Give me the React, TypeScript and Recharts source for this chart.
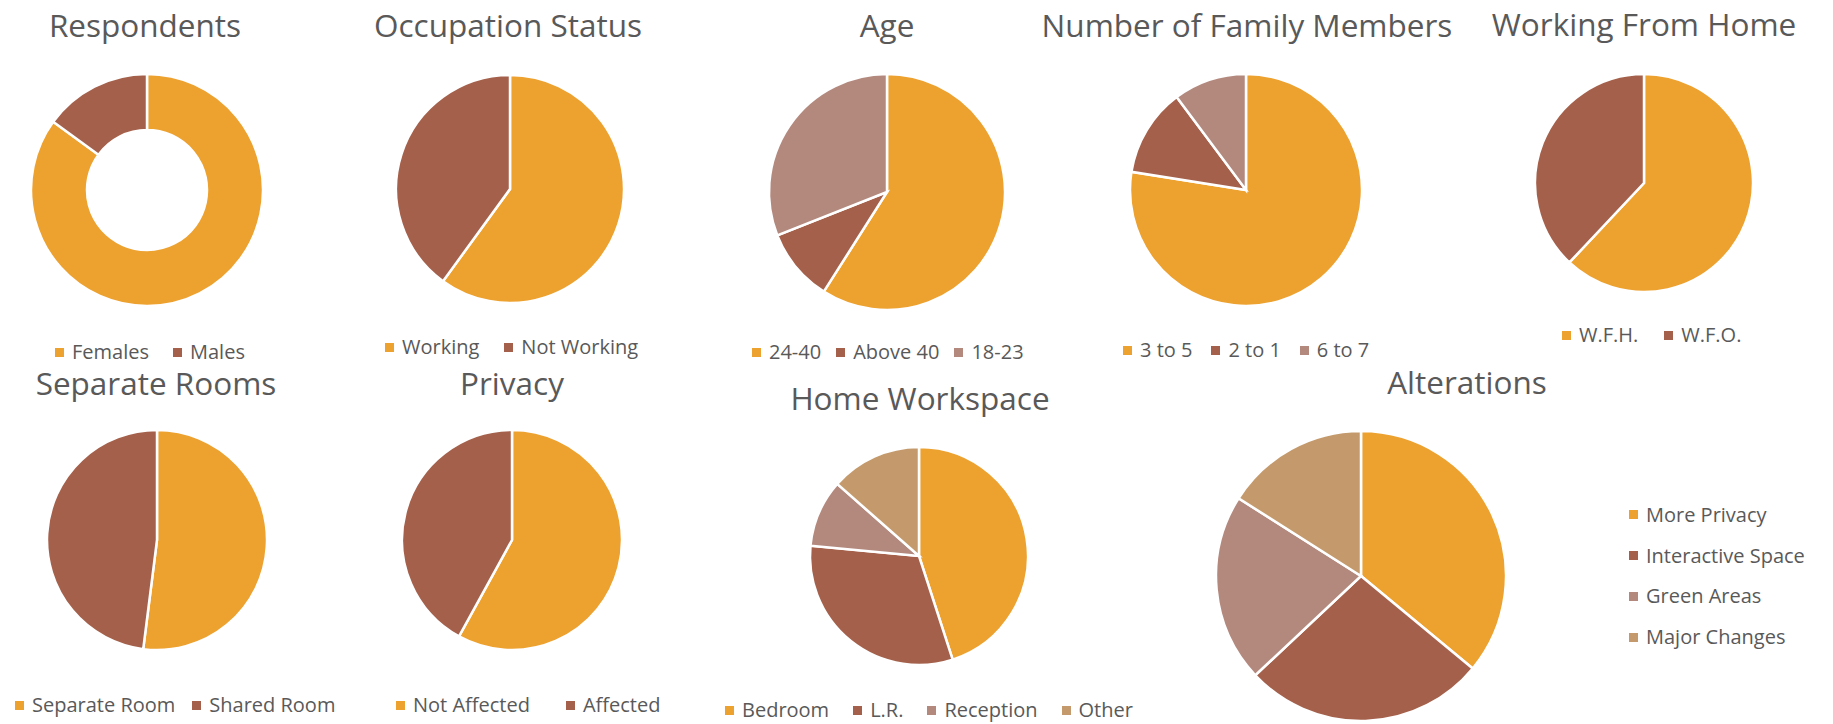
import React from 'react';
import { PieChart, Pie, Cell, Legend } from 'recharts';

// ---------- data ----------
const ORANGE = '#EDA12F';
const BROWN = '#A4604A';
const MAUVE = '#B3897E';
const TAN = '#C49A6C';

const respondentsLabels = ['Females', 'Males'];
const respondentsValues = [85, 15];

const occupationLabels = ['Working', 'Not Working'];
const occupationValues = [60, 40];

const ageLabels = ['24-40', 'Above 40', '18-23'];
const ageValues = [59, 10, 31];

const familyLabels = ['3 to 5', '2 to 1', '6 to 7'];
const familyValues = [77.5, 12.3, 10.2];

const wfhLabels = ['W.F.H.', 'W.F.O.'];
const wfhValues = [62, 38];

const separateLabels = ['Separate Room', 'Shared Room'];
const separateValues = [52, 48];

const privacyLabels = ['Not Affected', 'Affected'];
const privacyValues = [58, 42];

const workspaceLabels = ['Bedroom', 'L.R.', 'Reception', 'Other'];
const workspaceValues = [45, 31.5, 10, 13.5];

const alterationLabels = ['More Privacy', 'Interactive Space', 'Green Areas', 'Major Changes'];
const alterationValues = [36, 27, 21, 16];

const palette = [ORANGE, BROWN, MAUVE, TAN];

// ---------- layout ----------
type Layout = {
  cx: number; cy: number; r: number; inner?: number;
  tx: number; ty: number;
  lx: number; ly: number; gap: number; vertical?: boolean;
};

const charts: { title: string; labels: string[]; values: number[]; layout: Layout }[] = [
  { title: 'Respondents', labels: respondentsLabels, values: respondentsValues,
    layout: { cx: 147, cy: 190, r: 116, inner: 60, tx: 145, ty: 37, lx: 55, ly: 352, gap: 24 } },
  { title: 'Occupation Status', labels: occupationLabels, values: occupationValues,
    layout: { cx: 510, cy: 189, r: 114, tx: 508, ty: 37, lx: 385, ly: 347, gap: 25 } },
  { title: 'Age', labels: ageLabels, values: ageValues,
    layout: { cx: 887, cy: 192, r: 118, tx: 887, ty: 37, lx: 752, ly: 352, gap: 15 } },
  { title: 'Number of Family Members', labels: familyLabels, values: familyValues,
    layout: { cx: 1246, cy: 190, r: 116, tx: 1247, ty: 37, lx: 1123, ly: 350, gap: 19 } },
  { title: 'Working From Home', labels: wfhLabels, values: wfhValues,
    layout: { cx: 1644, cy: 183, r: 109, tx: 1644, ty: 36, lx: 1562, ly: 335, gap: 26 } },
  { title: 'Separate Rooms', labels: separateLabels, values: separateValues,
    layout: { cx: 157, cy: 540, r: 110, tx: 156, ty: 395, lx: 15, ly: 705, gap: 17 } },
  { title: 'Privacy', labels: privacyLabels, values: privacyValues,
    layout: { cx: 512, cy: 540, r: 110, tx: 512, ty: 395, lx: 396, ly: 705, gap: 36 } },
  { title: 'Home Workspace', labels: workspaceLabels, values: workspaceValues,
    layout: { cx: 919, cy: 556, r: 109, tx: 920, ty: 410, lx: 725, ly: 710, gap: 24 } },
  { title: 'Alterations', labels: alterationLabels, values: alterationValues,
    layout: { cx: 1361, cy: 576, r: 145, tx: 1467, ty: 394, lx: 1629, ly: 515, gap: 0, vertical: true } },
];

const W = 1833;
const H = 724;
const FONT = '"Open Sans", "Noto Sans", sans-serif';
const TEXT = '#595959';

const makeLegend = (labels: string[], gap: number, vertical?: boolean) => (props: any) => {
  const raw: any[] = props.payload || [];
  const payload = labels
    .map((l) => raw.find((p: any) => p.value === l))
    .filter(Boolean) as any[];
  return (
    <div
      style={{
        display: 'flex',
        flexDirection: vertical ? 'column' : 'row',
        alignItems: vertical ? 'flex-start' : 'center',
        columnGap: gap,
        whiteSpace: 'nowrap',
        fontFamily: FONT,
        fontSize: 20,
        color: TEXT,
      }}
    >
      {payload.map((p: any, i: number) => (
        <div key={i} style={{ display: 'flex', alignItems: 'center', height: vertical ? 40.7 : 30, lineHeight: '30px' }}>
          <span style={{ display: 'inline-block', width: 9, height: 9, background: p.color || (p.payload && p.payload.fill), marginRight: 8 }} />
          <span>{p.value}</span>
        </div>
      ))}
    </div>
  );
};

const PiePanel = ({ labels, values, layout }: { labels: string[]; values: number[]; layout: Layout }) => {
  const data = labels.map((name, i) => ({ name, value: values[i], fill: palette[i] }));
  const topOffset = layout.vertical ? 20.35 : 15;
  return (
    <div style={{ position: 'absolute', left: 0, top: 0, width: W, height: H }}>
      <PieChart width={W} height={H} margin={{ top: 0, right: 0, bottom: 0, left: 0 }}>
        <Pie
          data={data}
          dataKey="value"
          nameKey="name"
          cx={layout.cx}
          cy={layout.cy}
          outerRadius={layout.r}
          innerRadius={layout.inner || 0}
          startAngle={90}
          endAngle={-270}
          stroke="#ffffff"
          strokeWidth={2.5}
          isAnimationActive={false}
          label={false}
          labelLine={false}
        >
          {data.map((d, i) => (
            <Cell key={i} fill={d.fill} />
          ))}
        </Pie>
        <Legend
          itemSorter={null as any}
          content={makeLegend(labels, layout.gap, layout.vertical)}
          wrapperStyle={{ left: layout.lx, top: layout.ly - topOffset, bottom: 'auto', width: 'auto', height: 'auto' }}
        />
      </PieChart>
    </div>
  );
};

export default function App() {
  return (
    <div style={{ position: 'relative', width: W, height: H, background: '#ffffff', overflow: 'hidden' }}>
      <style>{'body{margin:0;background:#fff;}'}</style>
      {charts.map((c, i) => (
        <PiePanel key={i} labels={c.labels} values={c.values} layout={c.layout} />
      ))}
      <svg width={W} height={H} style={{ position: 'absolute', left: 0, top: 0, pointerEvents: 'none' }}>
        {charts.map((c, i) => (
          <text key={i} x={c.layout.tx} y={c.layout.ty} textAnchor="middle" fontFamily={FONT} fontSize={31.5} fill={TEXT}>
            {c.title}
          </text>
        ))}
      </svg>
    </div>
  );
}
